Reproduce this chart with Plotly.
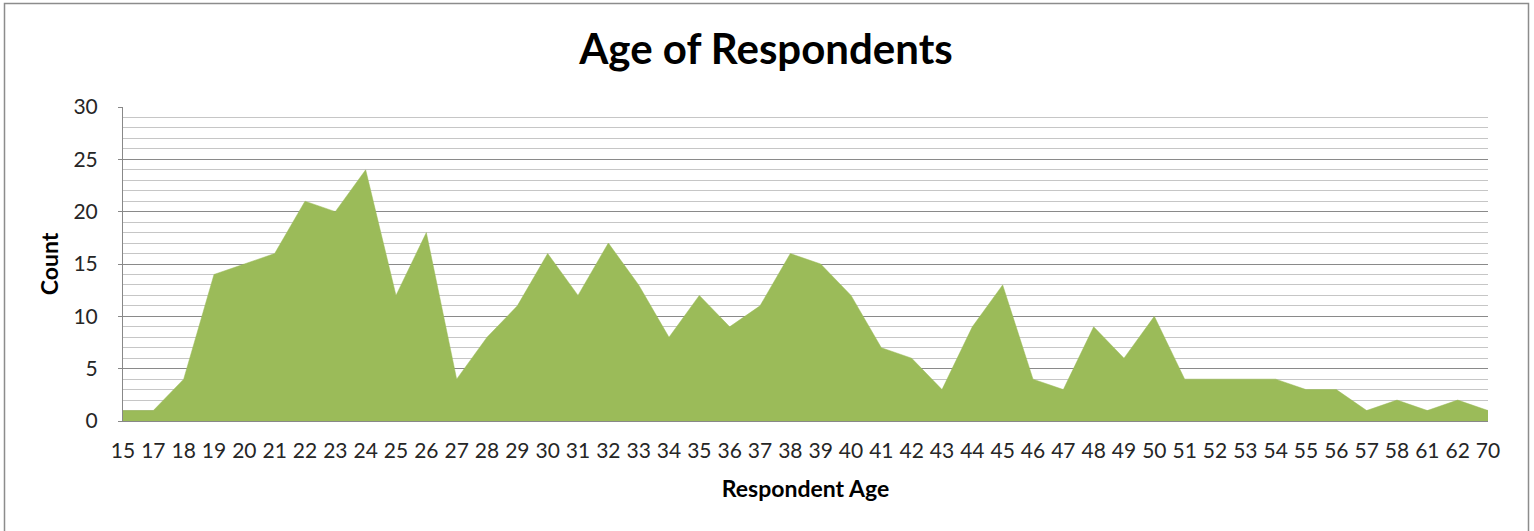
import plotly.graph_objects as go

ages = ["15", "17", "18", "19", "20", "21", "22", "23", "24", "25", "26", "27", "28", "29",
        "30", "31", "32", "33", "34", "35", "36", "37", "38", "39", "40", "41", "42", "43",
        "44", "45", "46", "47", "48", "49", "50", "51", "52", "53", "54", "55", "56", "57",
        "58", "61", "62", "70"]
counts = [1, 1, 4, 14, 15, 16, 21, 20, 24, 12, 18, 4, 8, 11,
          16, 12, 17, 13, 8, 12, 9, 11, 16, 15, 12, 7, 6, 3,
          9, 13, 4, 3, 9, 6, 10, 4, 4, 4, 4, 3, 3, 1,
          2, 1, 2, 1]

idx = list(range(len(ages)))
W, H = 1534, 531
L, R, T, B = 123, 1488, 107, 421

fig = go.Figure()
fig.add_trace(go.Scatter(
    x=idx, y=counts, mode="lines", fill="tozeroy",
    fillcolor="#9BBB59", line=dict(color="#9BBB59", width=0.5),
    hoverinfo="x+y", showlegend=False,
))

def px2paper_x(px):
    return (px - L) / (R - L)

def px2paper_y(py):
    return (B - py) / (B - T)

fig.update_layout(
    width=W, height=H,
    margin=dict(l=L, r=W - R, t=T, b=H - B),
    paper_bgcolor="white", plot_bgcolor="white",
    font=dict(family="Lato, Carlito, Calibri, sans-serif", color="#262626"),
    title=dict(text="<b>Age of Respondents</b>", x=766 / W, xref="container", xanchor="center",
               y=1 - 49 / H, yref="container", yanchor="middle",
               font=dict(size=42, color="#000000")),
    xaxis=dict(
        range=[0, len(ages) - 1], tickvals=idx, ticktext=ages,
        showgrid=False, zeroline=False, showline=True, linecolor="#888888", linewidth=1,
        ticks="", tickfont=dict(size=21, color="#262626"), ticklabelstandoff=11,
        title=dict(text="<b>Respondent Age</b>", font=dict(size=23, color="#000000"), standoff=19),
        fixedrange=True,
    ),
    yaxis=dict(
        range=[0, 30], dtick=5, tick0=0,
        showgrid=True, gridcolor="#8a8a8a", gridwidth=1,
        minor=dict(dtick=1, showgrid=True, gridcolor="#c6c6c6", gridwidth=1),
        zeroline=False, showline=True, linecolor="#888888", linewidth=1,
        ticks="outside", ticklen=4, tickcolor="#888888",
        tickfont=dict(size=21, color="#262626"), ticklabelstandoff=16,
        title=dict(text="<b>Count</b>", font=dict(size=23, color="#000000"), standoff=8),
        fixedrange=True,
    ),
    shapes=[dict(type="rect", xref="paper", yref="paper",
                 x0=px2paper_x(4.5), x1=px2paper_x(1528.5),
                 y0=px2paper_y(545), y1=px2paper_y(3.5),
                 line=dict(color="#8c8c8c", width=1.5), fillcolor="rgba(0,0,0,0)",
                 layer="below")],
)

fig.write_html("out.html", config={"displayModeBar": False},
               post_script="document.body.style.margin='0';document.body.style.overflow='hidden';")
